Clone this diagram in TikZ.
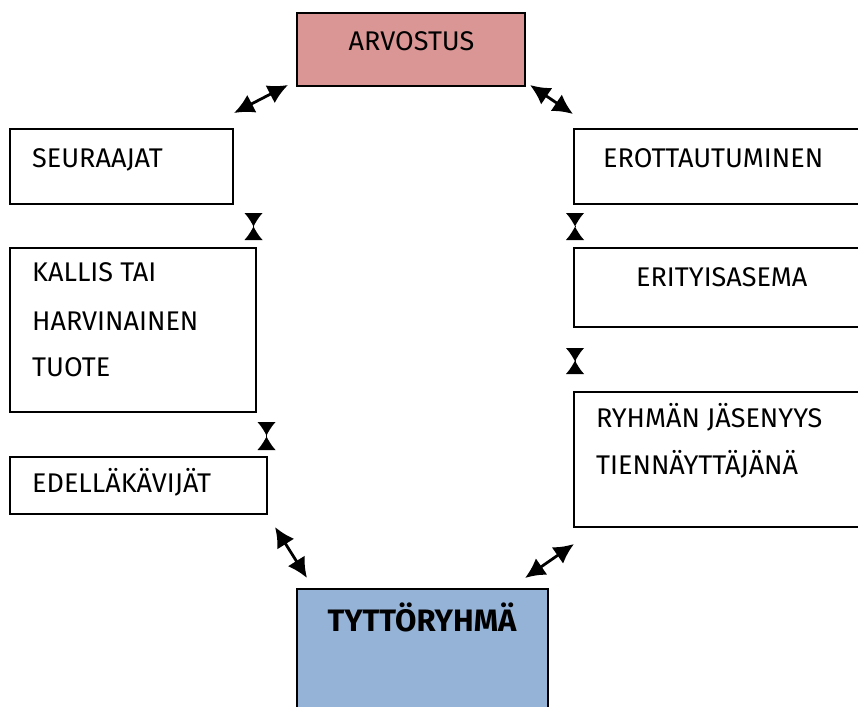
\documentclass[tikz,border=0pt]{standalone}
\usepackage{fontspec}
\setmainfont{Fira Sans}
\usepackage{tikz}
\usetikzlibrary{arrows.meta,positioning,calc}
\definecolor{arvored}{RGB}{217,150,148}
\definecolor{groupblue}{RGB}{149,179,215}
\tikzstyle{box} = [rectangle, draw=black, line width=2pt, inner sep=0pt]
\tikzstyle{boxtext} = [inner sep=0pt, anchor=base west, font=\fontsize{27}{31}\selectfont]
\tikzstyle{duo} = [line width=2.8pt, {Latex[length=20pt,width=20pt]}-{Latex[length=20pt,width=20pt]}]
\tikzstyle{hglass} = [line width=0pt, {Latex[reversed,length=13.5pt,width=18pt]}-{Latex[reversed,length=13.5pt,width=18pt]}]

\begin{document}
\begin{tikzpicture}[x=1pt,y=-1pt]
\useasboundingbox (0,0) rectangle (858,706);
\clip (0,0) rectangle (858,706);
% Boxes
\node[box, fill=arvored, minimum width=228pt, minimum height=73pt] (arvostus) at (411,49.5) {};
\node[box, minimum width=223pt, minimum height=75pt] (seuraajat) at (121.5,166.5) {};
\node[box, minimum width=296pt, minimum height=75pt] (erottautuminen) at (722,166.5) {};
\node[box, minimum width=246pt, minimum height=164pt] (kallis) at (133,330) {};
\node[box, minimum width=296pt, minimum height=79pt] (erityisasema) at (722,287.5) {};
\node[box, minimum width=257pt, minimum height=57pt] (edellakavijat) at (138.5,485.5) {};
\node[box, minimum width=296pt, minimum height=135pt] (ryhma) at (722,459.5) {};
\node[box, fill=groupblue, minimum width=251pt, minimum height=131pt] (tyttoryhma) at (422.5,654.5) {};

% Texts
\node[boxtext, anchor=base] (arvostus-t) at (411.5,51) {ARVOSTUS};
\node[boxtext] (seuraajat-t) at (32,167) {SEURAAJAT};
\node[boxtext] (erottautuminen-t) at (603,167) {EROTTAUTUMINEN};
\node[boxtext] (kallis-t1) at (32,281) {KALLIS TAI};
\node[boxtext] (kallis-t2) at (32,330) {HARVINAINEN};
\node[boxtext] (kallis-t3) at (32,376) {TUOTE};
\node[boxtext] (erityisasema-t) at (636,286) {ERITYISASEMA};
\node[boxtext] (edellakavijat-t) at (32,492) {EDELLÄKÄVIJÄT};
\node[boxtext] (ryhma-t1) at (596,427) {RYHMÄN JÄSENYYS};
\node[boxtext] (ryhma-t2) at (596,474) {TIENNÄYTTÄJÄNÄ};
\node[boxtext, anchor=base, font=\fontsize{31}{36}\selectfont\bfseries] (tyttoryhma-t) at (422,631) {TYTTÖRYHMÄ};

% Arrow ends
\coordinate (a1) at (288,85);
\coordinate (b1) at (234,113);
\coordinate (a2) at (530,85);
\coordinate (b2) at (573,114);
\coordinate (a3) at (275,527);
\coordinate (b3) at (307,578);
\coordinate (a4) at (574,544);
\coordinate (b4) at (525,578);

% Links
\draw[duo] (a1) -- (b1);
\draw[duo] (a2) -- (b2);
\draw[duo] (a3) -- (b3);
\draw[duo] (a4) -- (b4);

% Hourglass links
\coordinate (h1t) at (253.5,213);
\coordinate (h1b) at (253.5,240);
\coordinate (h2t) at (575,213);
\coordinate (h2b) at (575,240);
\coordinate (h3t) at (266.5,422);
\coordinate (h3b) at (266.5,450);
\coordinate (h4t) at (575,348);
\coordinate (h4b) at (575,374);
\draw[hglass] (h1t) -- (h1b);
\draw[hglass] (h2t) -- (h2b);
\draw[hglass] (h3t) -- (h3b);
\draw[hglass] (h4t) -- (h4b);
\end{tikzpicture}
\end{document}
